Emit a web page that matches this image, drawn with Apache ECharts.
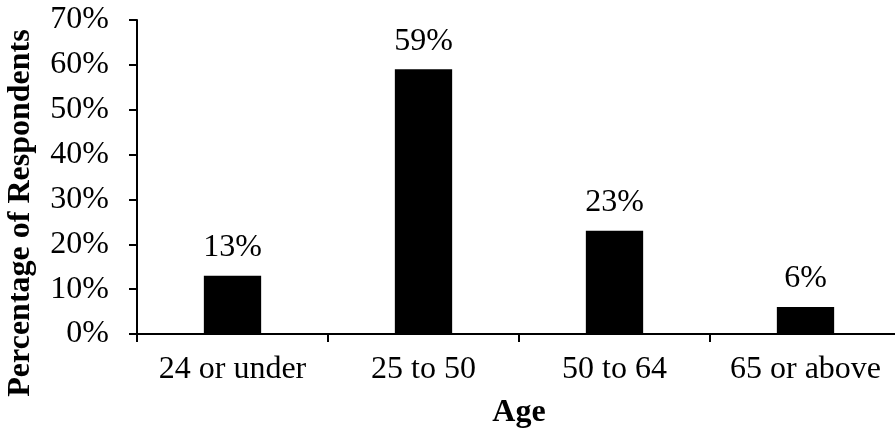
<!DOCTYPE html>
<html>
<head>
<meta charset="utf-8">
<script src="https://cdn.jsdelivr.net/npm/echarts@6/dist/echarts.min.js"></script>
<style>
  html, body { margin: 0; padding: 0; background: #fff; }
  #chart { width: 895px; height: 436px; }
</style>
</head>
<body>
<div id="chart"></div>
<script>
// Age groups of respondents
const categories = ['24 or under', '25 to 50', '50 to 64', '65 or above'];
// Share of respondents in each group (%)
const shares = [13, 59, 23, 6];
// Value axis range (%)
const yMin = 0;
const yMax = 70;
const yStep = 10;

const FONT = '"Liberation Serif", "Times New Roman", serif';

const chart = echarts.init(document.getElementById('chart'), null, { renderer: 'canvas' });
chart.setOption({
  animation: false,
  backgroundColor: '#ffffff',
  grid: { left: 137, right: -6, top: 20, bottom: 102, containLabel: false, outerBoundsMode: 'none' },
  xAxis: {
    type: 'category',
    data: categories,
    name: 'Age',
    nameLocation: 'middle',
    nameGap: 63,
    nameTextStyle: { fontFamily: FONT, fontSize: 32, fontWeight: 'bold', color: '#000' },
    axisLine: { lineStyle: { color: '#000', width: 2 } },
    axisTick: { show: true, interval: 0, length: 8, inside: false, alignWithLabel: false, lineStyle: { color: '#000', width: 2 } },
    axisLabel: { fontFamily: FONT, fontSize: 32, color: '#000', margin: 20, interval: 0, hideOverlap: false }
  },
  yAxis: {
    type: 'value',
    min: yMin,
    max: yMax,
    interval: yStep,
    name: 'Percentage of Respondents',
    nameLocation: 'middle',
    nameGap: 100,
    // extra padding on the text's trailing side nudges the rotated title downwards
    nameTextStyle: { fontFamily: FONT, fontSize: 32, fontWeight: 'bold', color: '#000', padding: [0, 72, 0, 0] },
    axisLine: { show: true, lineStyle: { color: '#000', width: 2 } },
    axisTick: { show: true, length: 8, lineStyle: { color: '#000', width: 2 } },
    splitLine: { show: false },
    axisLabel: { fontFamily: FONT, fontSize: 32, color: '#000', margin: 28, formatter: '{value}%' }
  },
  series: [{
    type: 'bar',
    data: shares,
    barWidth: '30%',
    itemStyle: { color: '#000' },
    label: {
      show: true,
      position: 'top',
      distance: 12,
      fontFamily: FONT,
      fontSize: 32,
      color: '#000',
      formatter: p => p.value + '%'
    }
  }]
});
</script>
</body>
</html>
